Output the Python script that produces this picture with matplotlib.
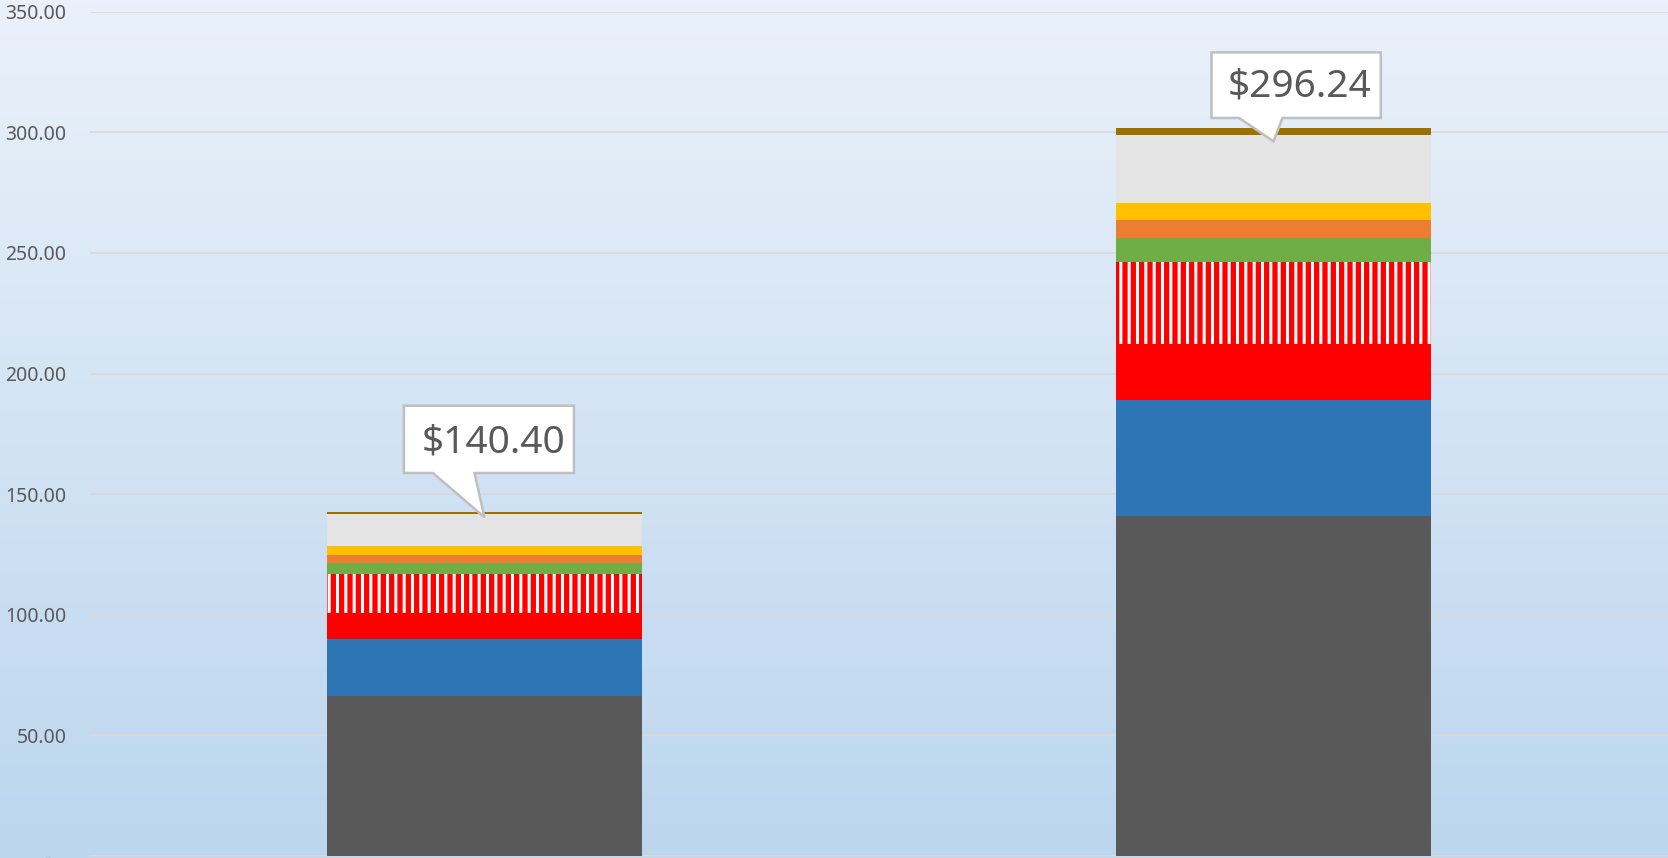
import matplotlib
matplotlib.use("Agg")
import matplotlib.pyplot as plt
import numpy as np
from matplotlib.patches import Polygon
from matplotlib.transforms import IdentityTransform
from matplotlib.colors import to_rgb

# ---------------- data ----------------
categories = ["Option 1", "Option 2"]
seg_base = [66.5, 141.0]
seg_blue = [23.3, 48.1]
seg_red = [10.8, 23.0]
seg_red_striped = [16.3, 34.3]
seg_green = [4.4, 9.7]
seg_orange = [3.5, 7.6]
seg_yellow = [3.7, 6.9]
seg_lightgray = [13.2, 28.3]
seg_brown = [1.0, 2.8]
totals = [140.40, 296.24]
total_labels = ["$140.40", "$296.24"]
y_ticks = [0, 50, 100, 150, 200, 250, 300, 350]

# ---------------- style ----------------
plt.rcParams["font.family"] = ["Noto Sans", "DejaVu Sans"]
plt.rcParams["hatch.linewidth"] = 2.2

W, H, DPI = 16.68, 8.58, 100
fig = plt.figure(figsize=(W, H), dpi=DPI)

# gradient background
bg = fig.add_axes([0, 0, 1, 1], zorder=-10)
top_c = np.array(to_rgb("#EAF1FA"))
bot_c = np.array(to_rgb("#BCD6EE"))
t = np.linspace(0, 1, 256)[:, None]
grad = top_c[None, :] * (1 - t) + bot_c[None, :] * t
grad = np.repeat(grad[:, None, :], 2, axis=1)
bg.imshow(grad, aspect="auto", extent=[0, 1, 0, 1], origin="upper")
bg.axis("off")

ax = fig.add_axes([90 / 1668, 2 / 858, 1 - 90 / 1668, (856 - 11.7) / 858])
ax.set_facecolor("none")

x = np.arange(len(categories))
width = 0.4

series = [
    (seg_base, "#595959", None),
    (seg_blue, "#2E75B6", None),
    (seg_red, "#FF0000", None),
    (seg_red_striped, "#FF0000", "||"),
    (seg_green, "#70AD47", None),
    (seg_orange, "#ED7D31", None),
    (seg_yellow, "#FFC000", None),
    (seg_lightgray, "#E4E4E4", None),
    (seg_brown, "#9A7200", None),
]
bottom = np.zeros(len(categories))
for vals, col, hatch in series:
    vals = np.array(vals)
    if hatch:
        ax.bar(x, vals, width, bottom=bottom, color=col, hatch=hatch,
               edgecolor="white", linewidth=0, zorder=3)
    else:
        ax.bar(x, vals, width, bottom=bottom, color=col, linewidth=0, zorder=3)
    bottom += vals

ax.set_xlim(-0.5, 1.5)
ax.set_ylim(0, 350)
ax.set_yticks(y_ticks)
ax.set_yticklabels(["-   " if v == 0 else f"{v:.2f}" for v in y_ticks])
ax.tick_params(axis="y", length=0, pad=17, labelsize=14, labelcolor="#595959")
ax.set_xticks([])
ax.grid(axis="y", color="#D9D9D9", linewidth=1.2, zorder=0)
for s in ["top", "right", "left"]:
    ax.spines[s].set_visible(False)
ax.spines["bottom"].set_color("#D9D9D9")
ax.spines["bottom"].set_linewidth(1.2)

# ---------------- callouts ----------------
# offsets in pixels relative to the tip (y up): box_l, box_r, box_b, box_t, base_l, base_r, text_dx, text_dy
callout_offsets = [
    (-80.6, 89.4, 44.3, 111.6, -51.6, -10.0, 9.0, 74.5),
    (-62.0, 107.3, 23.4, 89.0, -34.4, 9.0, 26.3, 54.5),
]
fig.canvas.draw()
for i, (tot, lab) in enumerate(zip(totals, total_labels)):
    tx, ty = ax.transData.transform((x[i], tot))
    bl, br, bb, bt, pl, pr, dx, dy = callout_offsets[i]
    verts = [
        (tx + bl, ty + bt), (tx + br, ty + bt), (tx + br, ty + bb),
        (tx + pr, ty + bb), (tx, ty), (tx + pl, ty + bb), (tx + bl, ty + bb),
    ]
    poly = Polygon(verts, closed=True, facecolor="white", edgecolor="#BFBFBF",
                   linewidth=1.8, transform=IdentityTransform(), zorder=10)
    fig.add_artist(poly)
    fig.text((tx + dx) / (W * DPI), (ty + dy) / (H * DPI), lab, ha="center",
             va="center", fontsize=28, color="#595959", zorder=11)

fig.savefig("out.png", dpi=DPI)
